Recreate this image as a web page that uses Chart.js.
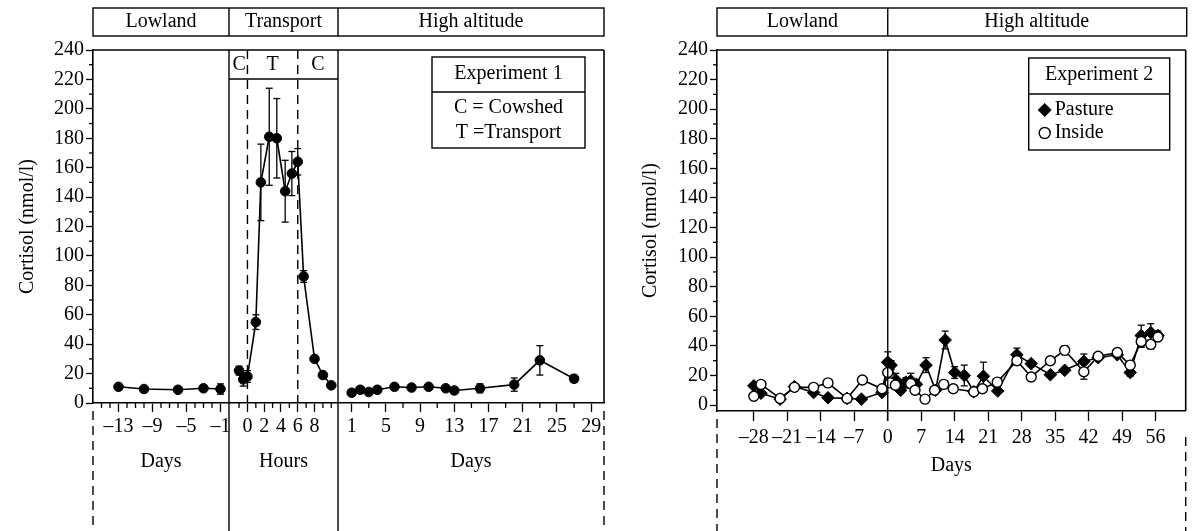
<!DOCTYPE html>
<html>
<head>
<meta charset="utf-8">
<script src="https://cdn.jsdelivr.net/npm/chart.js@4.4.0/dist/chart.umd.min.js"></script>
<style>
  html, body { margin: 0; padding: 0; background: #fff; }
  #wrap { position: relative; width: 1193px; height: 531px; overflow: hidden; }
  .panel { position: absolute; top: 0; height: 531px; }
  #left { left: 0; width: 620px; }
  #right { left: 620px; width: 573px; }
</style>
</head>
<body>
<div id="wrap">
  <div class="panel" id="left"><canvas id="c1"></canvas></div>
  <div class="panel" id="right"><canvas id="c2"></canvas></div>
</div>
<script>
//****DATA****//

// Experiment 1 - lowland (days)
var lowDays = [-13, -10, -6, -3, -1];
var lowVals = [11, 9.5, 9, 10, 9.5];
var lowErr = [1, 1, 1, 1.5, 3.5];

// Experiment 1 - transport (hours)
var trHours = [-1, -0.5, 0, 1, 1.6, 2.6, 3.5, 4.5, 5.3, 6.0, 6.7, 8, 9, 10];
var trVals = [22, 16, 18, 55, 150, 181, 180, 144, 156, 164, 86, 30, 19, 12];
var trErr = [3, 4.5, 4, 5, 26, 33, 27, 21, 15, 9, 4, 1.5, 1.5, 1];

// Experiment 1 - high altitude (days)
var highDays = [1, 2, 3, 4, 6, 8, 10, 12, 13, 16, 20, 23, 27];
var highVals = [7, 9, 7.5, 9, 11, 10.5, 11, 10, 8.5, 10, 12.5, 29, 16.5];
var highErr = [1, 1, 1, 1, 1.5, 1.5, 1.5, 1.5, 1, 3, 4.5, 10, 2.5];

// Experiment 2 - pasture
var pastDays = [-28, -26.5, -22.5, -19.5, -15.5, -12.5, -8.5, -5.5, -1.2, 0, 0.7, 1.7, 2.7, 3.8, 4.8, 6, 8, 10, 12, 14, 16, 18, 20, 23, 27, 30, 34, 37, 41, 44, 48, 50.7, 53, 55, 56.5];
var pastVals = [13, 8, 4, 12.5, 8.5, 5, 4.5, 4, 8.5, 29, 27, 17, 10, 15.5, 16.5, 14, 27, 10, 44, 22, 20, 9, 19.5, 9.5, 34, 28, 20.5, 23.5, 29.5, 32, 34, 22, 47, 49, 47];
var pastErr = [1, 1, 1, 1.5, 1, 1, 1, 1, 1, 7, 3, 4.5, 2, 3, 5, 3, 5, 1.5, 6, 4, 7, 1.5, 9.5, 1.5, 4.5, 2, 1.5, 1.5, 5, 1.5, 1.5, 2.5, 7, 6, 3];

// Experiment 2 - inside
var insDays = [-28, -26.5, -22.5, -19.5, -15.5, -12.5, -8.5, -5.3, -1.2, 0, 0.5, 1.6, 4.8, 5.7, 7.8, 9.8, 11.7, 13.7, 18, 19.8, 22.9, 27, 30, 34, 37, 41, 44, 48, 50.7, 53, 55, 56.5];
var insVals = [6, 14, 4.5, 12, 12, 15, 4.5, 17, 11, 22, 15, 13.5, 14.5, 10, 4, 10, 14, 11, 9, 11, 15.5, 30, 19, 30, 37, 22.5, 33, 35.5, 27, 43, 41, 46];
var insErr = [1, 1, 1, 1, 1, 1.5, 1, 1, 1, 5, 2, 2, 3, 1.5, 1, 1, 1, 1, 1, 1.5, 1, 1.5, 1.5, 2, 3, 5, 1.5, 1.5, 1.5, 4, 3, 2];

// tick labels
var yTicks = [0, 20, 40, 60, 80, 100, 120, 140, 160, 180, 200, 220, 240];
var yMinor = [10, 30, 50, 70, 90, 110, 130, 150, 170, 190, 210, 230];
var lowTicks = [-13, -9, -5, -1];
var lowMinor = [-15, -14, -12, -11, -10, -8, -7, -6, -4, -3, -2];
var trTicks = [0, 2, 4, 6, 8];
var trMinor = [-1, 1, 3, 5, 7, 9, 10];
var highTicks = [1, 5, 9, 13, 17, 21, 25, 29];
var highMinor = [3, 7, 11, 15, 19, 23, 27];
var exp2Ticks = [-28, -21, -14, -7, 0, 7, 14, 21, 28, 35, 42, 49, 56];

//****HELPERS****//

var FONT = 'Liberation Serif';
Chart.defaults.font.family = FONT;
Chart.defaults.font.size = 20;
Chart.defaults.color = '#000';

function pts(xs, ys) {
  return xs.map(function (x, i) { return {x: x, y: ys[i]}; });
}

function dash(v) {
  return v < 0 ? '\u2013' + (-v) : String(v);
}

function tickList(values) {
  return function (scale) {
    scale.ticks = values.map(function (v) { return {value: v}; });
  };
}

function fixed(prop, size) {
  return function (scale) { scale[prop] = size; };
}

function line(ctx, x1, y1, x2, y2) {
  ctx.beginPath();
  ctx.moveTo(x1, y1);
  ctx.lineTo(x2, y2);
  ctx.stroke();
}

function text(ctx, str, x, y, align) {
  ctx.textAlign = align || 'center';
  ctx.textBaseline = 'middle';
  ctx.fillText(str, x, y);
}

function xAxis(min, max, ticks, title, height, tickLen, pad, titlePad) {
  return {
    type: 'linear', position: 'bottom', min: min, max: max,
    afterBuildTicks: tickList(ticks),
    afterFit: fixed('height', height),
    ticks: {autoSkip: false, maxRotation: 0, minRotation: 0, padding: pad, callback: dash},
    grid: {drawOnChartArea: false, tickLength: tickLen, tickColor: '#000', tickWidth: 1.3},
    border: {color: '#000', width: 1.6},
    title: {display: true, text: title, padding: {top: 0, bottom: titlePad}}
  };
}

function yAxis(min, width, titlePad) {
  return {
    type: 'linear', min: min, max: 240,
    afterBuildTicks: tickList(yTicks),
    afterFit: fixed('width', width),
    ticks: {padding: 2},
    grid: {drawOnChartArea: false, tickLength: 7, tickColor: '#000', tickWidth: 1.3},
    border: {color: '#000', width: 1.6},
    title: {display: true, text: 'Cortisol (nmol/l)', padding: {top: titlePad, bottom: 0}}
  };
}

function series(data, errs, xId, style) {
  var ds = {
    data: data, errs: errs, xAxisID: xId, yAxisID: 'y',
    borderColor: '#000', borderWidth: 1.6,
    pointBackgroundColor: '#000', pointBorderColor: '#000',
    pointRadius: 4.8, pointBorderWidth: 1, tension: 0
  };
  if (style === 'diamond') {
    ds.pointStyle = 'rectRot';
    ds.pointRadius = 6.3;
  }
  if (style === 'open') {
    ds.pointBackgroundColor = '#fff';
    ds.pointRadius = 5;
    ds.pointBorderWidth = 1.4;
  }
  return ds;
}

//****PLUGINS****//

var errorBars = {
  id: 'errorBars',
  beforeDatasetsDraw: function (chart) {
    var ctx = chart.ctx;
    ctx.save();
    ctx.strokeStyle = '#000';
    ctx.lineWidth = 1.3;
    chart.data.datasets.forEach(function (ds, i) {
      if (!ds.errs) return;
      var meta = chart.getDatasetMeta(i);
      var y = chart.scales[meta.yAxisID];
      meta.data.forEach(function (el, j) {
        var e = ds.errs[j];
        if (!e) return;
        var v = ds.data[j].y;
        var top = y.getPixelForValue(v + e);
        var bot = y.getPixelForValue(v - e);
        line(ctx, el.x, top, el.x, bot);
        line(ctx, el.x - 3.5, top, el.x + 3.5, top);
        line(ctx, el.x - 3.5, bot, el.x + 3.5, bot);
      });
    });
    ctx.restore();
  }
};

function minorTicks(lists) {
  return {
    id: 'minorTicks',
    afterDraw: function (chart) {
      var ctx = chart.ctx;
      ctx.save();
      ctx.strokeStyle = '#000';
      ctx.lineWidth = 1.3;
      Object.keys(lists).forEach(function (id) {
        var s = chart.scales[id];
        lists[id].forEach(function (v) {
          var p = s.getPixelForValue(v);
          if (s.isHorizontal()) {
            line(ctx, p, s.top, p, s.top + 5);
          } else {
            line(ctx, s.right - 4, p, s.right, p);
          }
        });
      });
      ctx.restore();
    }
  };
}

var frame = {
  id: 'frame',
  afterDraw: function (chart) {
    var ctx = chart.ctx;
    var ca = chart.chartArea;
    ctx.save();
    ctx.strokeStyle = '#000';
    ctx.lineWidth = 1.6;
    line(ctx, ca.left, ca.top, ca.right, ca.top);
    line(ctx, ca.right, ca.top, ca.right, ca.bottom);
    ctx.restore();
  }
};

var leftDecor = {
  id: 'leftDecor',
  afterDraw: function (chart) {
    var ctx = chart.ctx;
    var ca = chart.chartArea;
    var xl = chart.scales.xLow, xt = chart.scales.xTr;
    var h0 = xt.getPixelForValue(0), h6 = xt.getPixelForValue(6);
    var H = chart.height;
    ctx.save();
    ctx.strokeStyle = '#000';
    ctx.fillStyle = '#000';
    ctx.font = '20px "' + FONT + '"';
    ctx.lineWidth = 1.4;

    // header boxes
    ctx.strokeRect(ca.left, 8, ca.right - ca.left, 28);
    line(ctx, xl.right, 8, xl.right, 36);
    line(ctx, xt.right, 8, xt.right, 36);
    text(ctx, 'Lowland', (ca.left + xl.right) / 2, 22);
    text(ctx, 'Transport', (xl.right + xt.right) / 2, 22);
    text(ctx, 'High altitude', (xt.right + ca.right) / 2, 22);

    // section separators
    line(ctx, xl.right, ca.top, xl.right, H);
    line(ctx, xt.right, ca.top, xt.right, H);

    // C / T sub header
    line(ctx, xl.right, ca.top + 29, xt.right, ca.top + 29);
    text(ctx, 'C', (xl.right + h0) / 2 + 1, ca.top + 15);
    text(ctx, 'T', (h0 + h6) / 2, ca.top + 15);
    text(ctx, 'C', (h6 + xt.right) / 2, ca.top + 15);

    // legend box
    var bx = ca.right - 172, by = ca.top + 7, bw = 153, bh = 91;
    ctx.strokeRect(bx, by, bw, bh);
    line(ctx, bx, by + 35, bx + bw, by + 35);
    text(ctx, 'Experiment 1', bx + bw / 2, by + 17);
    text(ctx, 'C = Cowshed', bx + bw / 2, by + 51);
    text(ctx, 'T =Transport', bx + bw / 2, by + 76);

    // dashed lines
    ctx.setLineDash([9, 6]);
    line(ctx, h0, ca.top, h0, ca.bottom);
    line(ctx, h6, ca.top, h6, ca.bottom);
    line(ctx, ca.left, ca.bottom + 8, ca.left, H);
    line(ctx, ca.right, ca.bottom + 8, ca.right, H);
    ctx.restore();
  }
};

var rightDecor = {
  id: 'rightDecor',
  afterDraw: function (chart) {
    var ctx = chart.ctx;
    var ca = chart.chartArea;
    var x0 = chart.scales.x.getPixelForValue(0);
    var H = chart.height;
    ctx.save();
    ctx.strokeStyle = '#000';
    ctx.fillStyle = '#000';
    ctx.font = '20px "' + FONT + '"';
    ctx.lineWidth = 1.4;

    // header boxes
    ctx.strokeRect(ca.left, 8, ca.right + 1 - ca.left, 28);
    line(ctx, x0, 8, x0, 36);
    text(ctx, 'Lowland', (ca.left + x0) / 2, 22);
    text(ctx, 'High altitude', (x0 + ca.right) / 2, 22);

    // move to high altitude
    line(ctx, x0, ca.top, x0, ca.bottom + 10);

    // legend box
    var bx = ca.right - 157, by = ca.top + 8, bw = 141, bh = 92;
    ctx.strokeRect(bx, by, bw, bh);
    line(ctx, bx, by + 36, bx + bw, by + 36);
    text(ctx, 'Experiment 2', bx + bw / 2, by + 17);
    var sx = bx + 16;
    ctx.beginPath();
    ctx.moveTo(sx, by + 45);
    ctx.lineTo(sx + 7, by + 52);
    ctx.lineTo(sx, by + 59);
    ctx.lineTo(sx - 7, by + 52);
    ctx.closePath();
    ctx.fill();
    text(ctx, 'Pasture', sx + 10, by + 52, 'left');
    ctx.beginPath();
    ctx.arc(sx, by + 75, 5.5, 0, Math.PI * 2);
    ctx.stroke();
    text(ctx, 'Inside', sx + 10, by + 75, 'left');

    // dashed lines below
    ctx.setLineDash([9, 6]);
    line(ctx, ca.left, ca.bottom + 8, ca.left, H);
    line(ctx, ca.right, ca.bottom + 26, ca.right, H);
    ctx.restore();
  }
};

//****CHARTS****//

var left = new Chart(document.getElementById('c1'), {
  type: 'line',
  data: {
    datasets: [
      series(pts(lowDays, lowVals), lowErr, 'xLow'),
      series(pts(trHours, trVals), trErr, 'xTr'),
      series(pts(highDays, highVals), highErr, 'xHigh')
    ]
  },
  options: {
    responsive: true, maintainAspectRatio: false, animation: false, devicePixelRatio: 1,
    layout: {padding: {left: 0, right: 16, top: 50, bottom: 0}},
    plugins: {legend: {display: false}, tooltip: {enabled: false}},
    scales: {
      xLow: Object.assign(xAxis(-16, 0, lowTicks, 'Days', 128, 9, 3, 57), {stack: 'days', stackWeight: 136}),
      xTr: Object.assign(xAxis(-2.2, 10.8, trTicks, 'Hours', 128, 9, 3, 57), {stack: 'days', stackWeight: 109}),
      xHigh: Object.assign(xAxis(-0.6, 30.5, highTicks, 'Days', 128, 9, 3, 57), {stack: 'days', stackWeight: 266}),
      y: yAxis(0, 93, 16)
    }
  },
  plugins: [errorBars, minorTicks({y: yMinor, xLow: lowMinor, xTr: trMinor, xHigh: highMinor}), frame, leftDecor]
});

var right = new Chart(document.getElementById('c2'), {
  type: 'line',
  data: {
    datasets: [
      series(pts(insDays, insVals), insErr, 'x', 'open'),
      series(pts(pastDays, pastVals), pastErr, 'x', 'diamond')
    ]
  },
  options: {
    responsive: true, maintainAspectRatio: false, animation: false, devicePixelRatio: 1,
    layout: {padding: {left: 0, right: 2, top: 50, bottom: 0}},
    plugins: {legend: {display: false}, tooltip: {enabled: false}},
    scales: {
      x: xAxis(-35.7, 62.3, exp2Ticks, 'Days', 120, 10, 5, 53),
      y: yAxis(-4, 97, 19)
    }
  },
  plugins: [errorBars, minorTicks({y: yMinor}), frame, rightDecor]
});
</script>
</body>
</html>
